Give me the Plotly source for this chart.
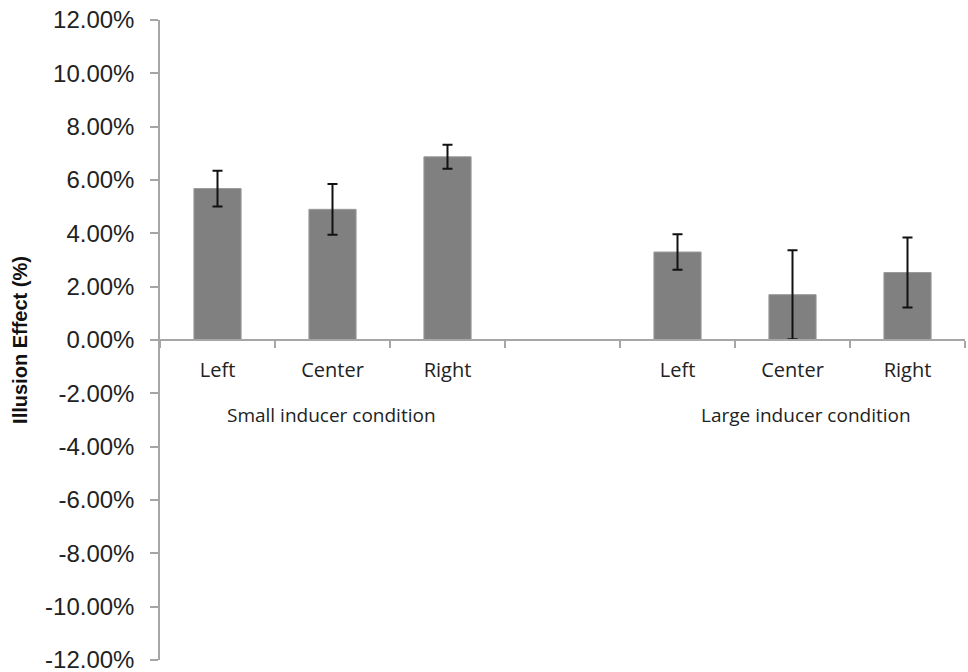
import plotly.graph_objects as go

categories = ["S-Left", "S-Center", "S-Right", "gap", "L-Left", "L-Center", "L-Right"]
tick_labels = ["Left", "Center", "Right", "", "Left", "Center", "Right"]
values = [5.68, 4.90, 6.87, None, 3.30, 1.70, 2.53]
errors = [0.67, 0.95, 0.45, None, 0.67, 1.67, 1.31]
group_labels = ["Small inducer condition", "Large inducer condition"]
group_centers = ["S-Center", "L-Center"]
y_ticks = [-12, -10, -8, -6, -4, -2, 0, 2, 4, 6, 8, 10, 12]

fig = go.Figure()
fig.add_trace(go.Bar(
    x=categories, y=values,
    marker=dict(color="#808080", line=dict(color="#9a9a9a", width=1)),
    error_y=dict(type="data", array=errors, visible=True, color="#111111",
                 thickness=2, width=5),
    showlegend=False,
))

for lbl, c, shift in zip(group_labels, group_centers, [-1, 13]):
    fig.add_annotation(x=c, y=-2.8, xref="x", yref="y", text=lbl, showarrow=False,
                       font=dict(family="Open Sans", size=19, color="#222222"),
                       xshift=shift)

fig.update_layout(
    width=968, height=672,
    margin=dict(l=160, r=3, t=20, b=12),
    paper_bgcolor="white", plot_bgcolor="white",
    bargap=0.59,
    xaxis=dict(
        type="category", tickmode="array", tickvals=categories, ticktext=tick_labels,
        tickson="boundaries", ticks="outside", ticklen=7, tickcolor="#a6a6a6",
        tickwidth=1.5, showline=True, linecolor="#a6a6a6", linewidth=1.5,
        anchor="free", position=0.5, showgrid=False, zeroline=False,
        automargin=False,
        tickfont=dict(family="Open Sans", size=20, color="#222222"),
        ticklabelstandoff=12,
    ),
    yaxis=dict(
        range=[-12, 12], tickvals=y_ticks,
        ticktext=[f"{v:.2f}%" for v in y_ticks],
        ticks="outside", ticklen=8, tickcolor="#a6a6a6", tickwidth=1.5,
        showline=True, linecolor="#a6a6a6", linewidth=1.5,
        showgrid=False, zeroline=False, automargin=False,
        ticklabeloverflow="allow",
        tickfont=dict(family="Liberation Sans", size=24, color="#222222"),
        ticklabelstandoff=11,
        title=dict(text="<b>Illusion Effect (%)</b>", standoff=12,
                   font=dict(family="Liberation Sans", size=20, color="#111111")),
    ),
)

fig.write_html("out.html", post_script="document.body.style.margin='0';",
               config={"displayModeBar": False})
